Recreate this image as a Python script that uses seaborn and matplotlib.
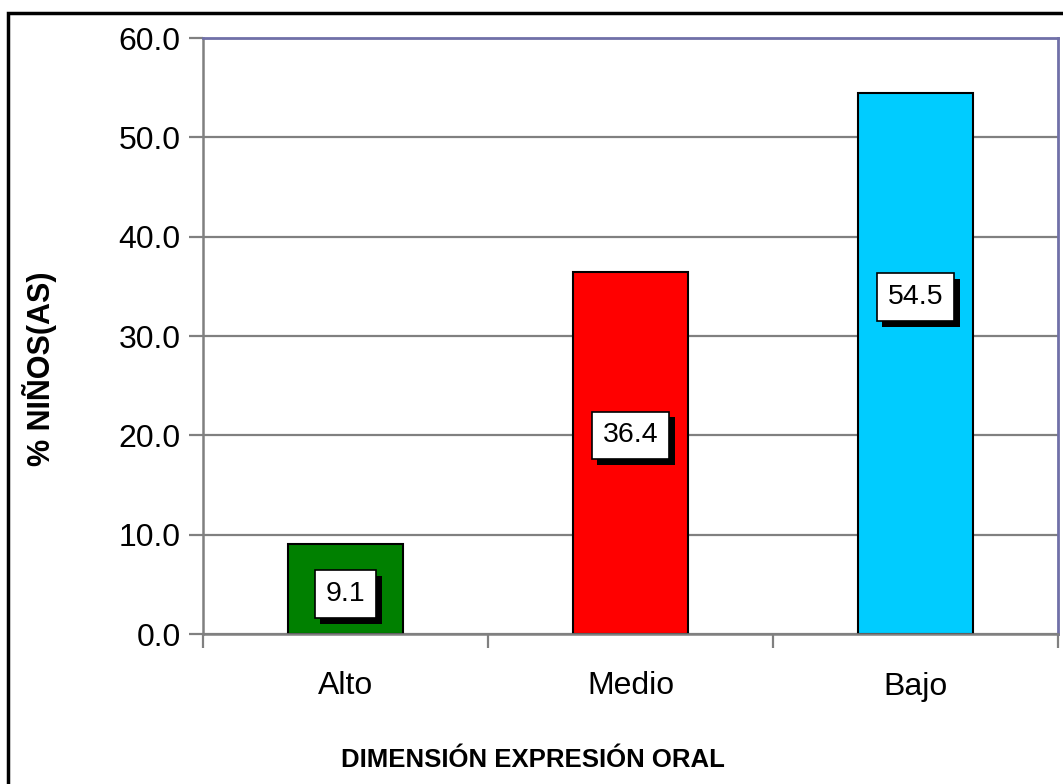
import numpy as np
import pandas as pd
import matplotlib
matplotlib.use("Agg")
import matplotlib.pyplot as plt
import matplotlib.patheffects as pe
import seaborn as sns
from matplotlib.patches import Rectangle
from matplotlib.ticker import FixedLocator, FormatStrFormatter

# data
categories = ["Alto", "Medio", "Bajo"]
percent = [9.1, 36.4, 54.5]
bar_colors = ["#008000", "#FF0000", "#00CCFF"]
y_ticks = [0, 10, 20, 30, 40, 50, 60]

x_title = "DIMENSIÓN EXPRESIÓN ORAL"
y_title = "% NIÑOS(AS)"

df = pd.DataFrame({"nivel": categories, "pct": percent})

sns.set_theme(style="white")
plt.rcParams["font.family"] = ["Liberation Sans", "DejaVu Sans"]
plt.rcParams["text.color"] = "black"

fig = plt.figure(figsize=(10.63, 7.84), dpi=100)
ax = fig.add_axes([203 / 1063, 1 - 634 / 784, 855 / 1063, 596 / 784])

# gridlines first
ax.set_axisbelow(True)
ax.yaxis.grid(True, color="#808080", linewidth=1.6)

sns.barplot(
	data=df,
	x="nivel",
	y="pct",
	hue="nivel",
	palette=bar_colors,
	legend=False,
	width=0.405,
	edgecolor="black",
	linewidth=1.5,
	saturation=1,
	ax=ax
)

ax.set_xlim(-0.5, 2.5)
ax.set_ylim(0, 60)
ax.set_yticks(y_ticks)
ax.yaxis.set_major_formatter(FormatStrFormatter("%.1f"))
ax.tick_params(axis="y", direction="out", length=10, width=1.6, color="#808080",
			   pad=6, labelsize=23, labelcolor="black", left=True)

# x ticks: marks at the category borders, labels at the centres
ax.xaxis.set_major_locator(FixedLocator([-0.5, 0.5, 1.5, 2.5]))
ax.xaxis.set_minor_locator(FixedLocator([0, 1, 2]))
ax.xaxis.set_major_formatter(plt.NullFormatter())
ax.xaxis.set_minor_formatter(plt.FixedFormatter(categories))
ax.tick_params(axis="x", which="major", direction="out", length=10, width=1.6,
			   color="#808080", bottom=True)
ax.tick_params(axis="x", which="minor", length=0, pad=27, labelsize=23,
			   labelcolor="black")

for side in ["left", "bottom"]:
	ax.spines[side].set_color("#808080")
	ax.spines[side].set_linewidth(1.8)
for side in ["top", "right"]:
	ax.spines[side].set_color("#7070A8")
	ax.spines[side].set_linewidth(2)

ax.set_xlabel("")
ax.set_ylabel("")
fig.text(533 / 1063, 1 - 760 / 784, x_title, ha="center", va="center",
		 fontsize=18.5, fontweight="bold", color="black")
fig.text(40 / 1063, 1 - 369 / 784, y_title, ha="center", va="center",
		 rotation=90, fontsize=22, fontweight="bold", color="black")

# value labels: white box with a black drop shadow
label_y = [4.0, 20.0, 33.9]
for i, (v, ly) in enumerate(zip(percent, label_y)):
	ann = ax.annotate(f"{v:.1f}", (i, ly), ha="center", va="center",
					  fontsize=20.5, color="black",
					  bbox=dict(boxstyle="square,pad=0.38", fc="white",
								ec="black", lw=1.2))
	ann.get_bbox_patch().set_path_effects([
		pe.SimplePatchShadow(offset=(4, -4), shadow_rgbFace="black", alpha=1.0),
		pe.Normal()
	])

# outer chart border (left and top only visible)
fig.patches.append(Rectangle((8 / 1063, -0.2), 1.5, 1 - 13 / 784 + 0.2,
							 transform=fig.transFigure, fill=False,
							 edgecolor="black", linewidth=2.5, clip_on=False))

fig.savefig("out.png", dpi=100, facecolor="white")
